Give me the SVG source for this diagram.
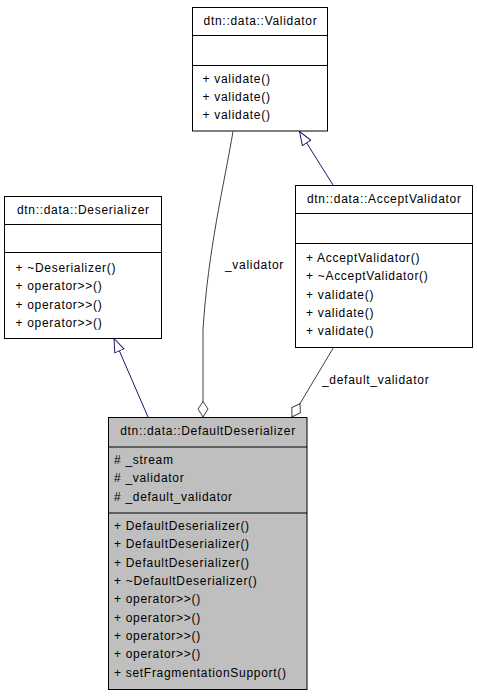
<svg xmlns="http://www.w3.org/2000/svg" width="477" height="699" viewBox="0 0 477 699">
<style>
  rect.b { fill: #ffffff; stroke: #000000; stroke-width: 1; }
  rect.cur { fill: #bfbfbf; stroke: #000000; stroke-width: 1; }
  line.sep { stroke: #000000; stroke-width: 1; }
  text { font-family: "Liberation Sans", Arial, Helvetica, sans-serif; font-size: 12px; letter-spacing: 0.7px; fill: #000000; }
  text.t { text-anchor: middle; }
  .inh { fill: none; stroke: #191970; stroke-width: 1; }
  .agg { fill: none; stroke: #404040; stroke-width: 1; }
</style>
<defs>
  <marker id="tri" markerUnits="userSpaceOnUse" markerWidth="16" markerHeight="12" refX="14" refY="6" orient="auto">
    <path d="M0.5,1 L14,6 L0.5,11 Z" fill="#ffffff" stroke="#191970" stroke-width="1"/>
  </marker>
  <marker id="dia" markerUnits="userSpaceOnUse" markerWidth="18" markerHeight="12" refX="16" refY="6" orient="auto">
    <path d="M0.5,6 L8,1 L16,6 L8,11 Z" fill="#ffffff" stroke="#404040" stroke-width="1"/>
  </marker>
</defs>

<g id="connectors">
  <path class="inh" d="M148,417 L114,338.5" marker-end="url(#tri)"/>
  <path class="inh" d="M333,185 L299.5,131.5" marker-end="url(#tri)"/>
  <path class="agg" d="M233,131.5 C224,185 208,250 203,330 L203,417" marker-end="url(#dia)"/>
  <path class="agg" d="M333.5,347.5 L292,417" marker-end="url(#dia)"/>
  <text x="225" y="269">_validator</text>
  <text x="322" y="384">_default_validator</text>
</g>

<g id="node-validator">
  <rect class="b" x="192.5" y="7.5" width="135" height="123.5"/>
  <line class="sep" x1="192.5" y1="35.5" x2="327.5" y2="35.5"/>
  <line class="sep" x1="192.5" y1="65.5" x2="327.5" y2="65.5"/>
  <text class="t" x="260.5" y="24.5">dtn::data::Validator</text>
  <text x="202.5" y="82.5">+ validate()</text>
  <text x="202.5" y="101">+ validate()</text>
  <text x="202.5" y="119.3">+ validate()</text>
</g>

<g id="node-deserializer">
  <rect class="b" x="4.5" y="196.5" width="157" height="142"/>
  <line class="sep" x1="4.5" y1="224.5" x2="161.5" y2="224.5"/>
  <line class="sep" x1="4.5" y1="252.5" x2="161.5" y2="252.5"/>
  <text class="t" x="83.3" y="213.5">dtn::data::Deserializer</text>
  <text x="15.5" y="272">+ ~Deserializer()</text>
  <text x="15.5" y="290.3">+ operator&gt;&gt;()</text>
  <text x="15.5" y="308.6">+ operator&gt;&gt;()</text>
  <text x="15.5" y="327">+ operator&gt;&gt;()</text>
</g>

<g id="node-acceptvalidator">
  <rect class="b" x="295.5" y="185.5" width="177" height="162"/>
  <line class="sep" x1="295.5" y1="213.5" x2="472.5" y2="213.5"/>
  <line class="sep" x1="295.5" y1="243.5" x2="472.5" y2="243.5"/>
  <text class="t" x="384.3" y="202.5">dtn::data::AcceptValidator</text>
  <text x="306" y="262">+ AcceptValidator()</text>
  <text x="306" y="280.3">+ ~AcceptValidator()</text>
  <text x="306" y="298.6">+ validate()</text>
  <text x="306" y="317">+ validate()</text>
  <text x="306" y="335.3">+ validate()</text>
</g>

<g id="node-defaultdeserializer">
  <rect class="cur" x="108.5" y="417.5" width="198.5" height="272"/>
  <line class="sep" x1="108.5" y1="447" x2="307" y2="447"/>
  <line class="sep" x1="108.5" y1="513" x2="307" y2="513"/>
  <text class="t" x="208" y="435">dtn::data::DefaultDeserializer</text>
  <text x="114" y="464"># _stream</text>
  <text x="114" y="482.3"># _validator</text>
  <text x="114" y="500.6"># _default_validator</text>
  <text x="114" y="530">+ DefaultDeserializer()</text>
  <text x="114" y="548.3">+ DefaultDeserializer()</text>
  <text x="114" y="566.6">+ DefaultDeserializer()</text>
  <text x="114" y="585">+ ~DefaultDeserializer()</text>
  <text x="114" y="603.3">+ operator&gt;&gt;()</text>
  <text x="114" y="621.6">+ operator&gt;&gt;()</text>
  <text x="114" y="640">+ operator&gt;&gt;()</text>
  <text x="114" y="658.3">+ operator&gt;&gt;()</text>
  <text x="114" y="676.6">+ setFragmentationSupport()</text>
</g>
</svg>
